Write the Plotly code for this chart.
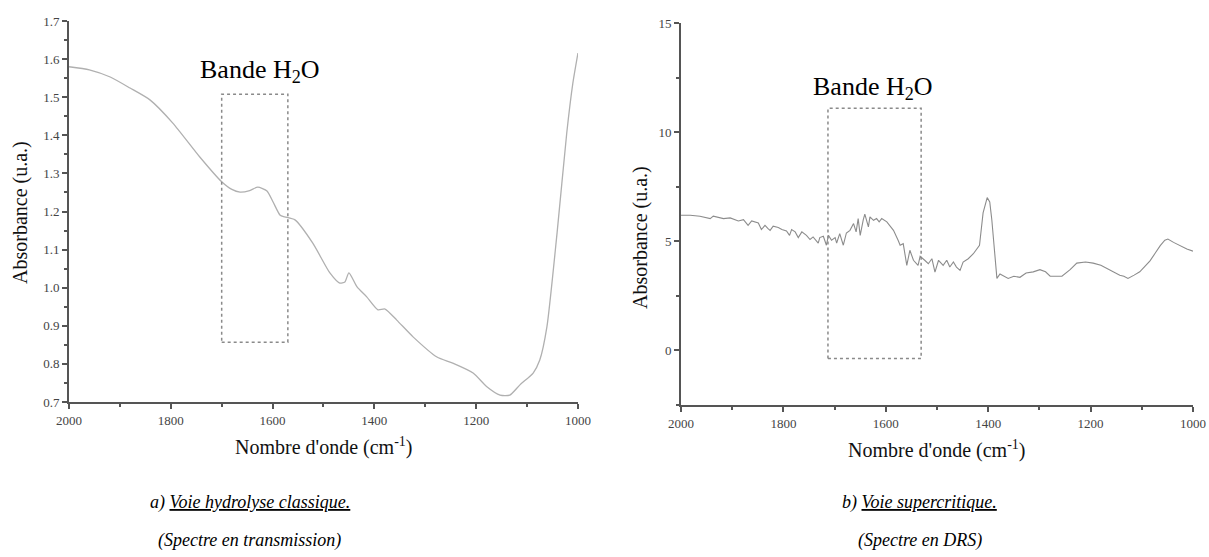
import plotly.graph_objects as go

# a) classical hydrolysis, transmission spectrum
wn_a = [2000, 1960, 1919, 1880, 1841, 1796, 1743, 1700, 1680, 1664, 1645, 1629, 1611, 1599,
        1585, 1576, 1556, 1521, 1487, 1468, 1458, 1450, 1434, 1415, 1393, 1379, 1356, 1324,
        1277, 1246, 1206, 1179, 1153, 1134, 1114, 1088, 1075, 1061, 1041, 1022, 1010, 1000]
abs_a = [1.580, 1.572, 1.553, 1.524, 1.493, 1.432, 1.343, 1.278, 1.258, 1.251, 1.255, 1.264,
         1.254, 1.225, 1.190, 1.186, 1.178, 1.117, 1.038, 1.012, 1.015, 1.039, 1.002, 0.976,
         0.942, 0.944, 0.915, 0.871, 0.818, 0.802, 0.776, 0.740, 0.718, 0.718, 0.745, 0.776,
         0.810, 0.897, 1.144, 1.406, 1.537, 1.616]

# b) supercritical route, DRS spectrum
wn_b = [2000, 1982, 1963, 1943, 1937, 1917, 1904, 1888, 1878, 1869, 1862, 1849, 1843, 1836,
        1830, 1826, 1820, 1810, 1803, 1794, 1788, 1784, 1777, 1771, 1764, 1755, 1748, 1742,
        1732, 1729, 1722, 1716, 1712, 1706, 1699, 1696, 1690, 1683, 1677, 1670, 1663, 1658,
        1654, 1650, 1644, 1641, 1634, 1631, 1624, 1618, 1613, 1608, 1598, 1585, 1576, 1572,
        1566, 1559, 1553, 1546, 1537, 1533, 1524, 1517, 1510, 1504, 1497, 1488, 1481, 1475,
        1468, 1462, 1455, 1449, 1439, 1429, 1417, 1410, 1402, 1397, 1393, 1387, 1383, 1377,
        1370, 1361, 1350, 1338, 1326, 1312, 1299, 1288, 1279, 1256, 1240, 1227, 1210, 1195,
        1180, 1168, 1155, 1143, 1135, 1127, 1115, 1104, 1094, 1084, 1074, 1064, 1055, 1049,
        1038, 1025, 1012, 1000]
abs_b = [6.19, 6.19, 6.15, 6.04, 6.15, 6.04, 6.07, 5.93, 5.99, 5.73, 5.93, 5.84, 5.54, 5.73,
         5.58, 5.50, 5.69, 5.63, 5.54, 5.47, 5.27, 5.54, 5.43, 5.17, 5.43, 5.27, 5.08, 5.20,
         4.92, 5.17, 5.23, 4.82, 5.27, 5.05, 5.17, 4.92, 5.35, 4.82, 5.38, 5.50, 5.81, 5.43,
         6.04, 5.27, 5.99, 6.24, 5.66, 6.12, 5.96, 6.04, 5.89, 6.04, 5.89, 5.50, 5.05, 4.82,
         4.89, 3.90, 4.59, 4.13, 3.90, 4.31, 4.13, 3.97, 4.20, 3.59, 4.13, 3.90, 4.13, 3.82,
         4.05, 3.82, 3.67, 4.05, 4.20, 4.43, 4.82, 6.30, 7.00, 6.80, 6.00, 4.45, 3.30, 3.50,
         3.40, 3.30, 3.40, 3.35, 3.55, 3.60, 3.70, 3.60, 3.40, 3.40, 3.70, 4.00, 4.05, 4.00,
         3.90, 3.76, 3.60, 3.44, 3.40, 3.30, 3.45, 3.60, 3.85, 4.10, 4.45, 4.80, 5.05, 5.10,
         4.95, 4.80, 4.65, 4.55]

# water band boxes: [x0, x1, y0, y1]
box_a = [1700, 1570, 0.857, 1.508]
box_b = [1713, 1531, -0.37, 11.1]

SERIF = "Liberation Serif"
AX = "#555555"

fig = go.Figure()
fig.add_trace(go.Scatter(x=wn_a, y=abs_a, mode="lines", line=dict(color="#b0b0b0", width=1.3, shape="spline", smoothing=0.6),
                         xaxis="x", yaxis="y", showlegend=False))
fig.add_trace(go.Scatter(x=wn_b, y=abs_b, mode="lines", line=dict(color="#8c8c8c", width=1.1),
                         xaxis="x2", yaxis="y2", showlegend=False))

axis_common = dict(showline=True, linecolor=AX, linewidth=2, ticks="outside", ticklen=5, tickwidth=1.5,
                   tickcolor=AX, showgrid=False, zeroline=False, ticklabeloverflow="allow", automargin=False,
                   tickfont=dict(family=SERIF, size=13, color="#444444"))

fig.update_layout(
    width=1209, height=557,
    margin=dict(l=69, r=16, t=21, b=152),
    paper_bgcolor="white", plot_bgcolor="white",
    xaxis=dict(domain=[0, 0.4528], range=[2000, 1000], dtick=200, anchor="y",
               minor=dict(dtick=100, ticks="outside", ticklen=3, tickcolor=AX), **axis_common),
    yaxis=dict(domain=[0.0078, 1], range=[0.7, 1.7], dtick=0.1, tickformat=".1f", anchor="x",
               minor=dict(dtick=0.05, ticks="outside", ticklen=3, tickcolor=AX), **axis_common),
    xaxis2=dict(domain=[0.5445, 1], range=[2000, 1000], dtick=200, anchor="y2",
                minor=dict(dtick=100, ticks="outside", ticklen=3, tickcolor=AX), **axis_common),
    yaxis2=dict(domain=[0, 0.9948], range=[-2.5, 15], tickvals=[0, 5, 10, 15], anchor="x2",
                minor=dict(dtick=2.5, ticks="outside", ticklen=3, tickcolor=AX), **axis_common),
)

for bx, xr, yr in [(box_a, "x", "y"), (box_b, "x2", "y2")]:
    fig.add_shape(type="rect", xref=xr, yref=yr, x0=bx[0], x1=bx[1], y0=bx[2], y1=bx[3],
                  line=dict(color="#8a8a8a", width=1.5, dash="dot"))

fig.add_annotation(x=1625, y=1.569, xref="x", yref="y", text="Bande H<sub>2</sub>O", showarrow=False,
                   font=dict(family=SERIF, size=26, color="black"))
fig.add_annotation(x=1625, y=12.0, xref="x2", yref="y2", text="Bande H<sub>2</sub>O", showarrow=False,
                   font=dict(family=SERIF, size=26, color="black"))

title_font = dict(family=SERIF, size=20, color="#111111")
for x, y, txt, ang in [(-0.0436, 0.5026, "Absorbance (u.a.)", -90),
                       (0.508, 0.4375, "Absorbance (u.a.)", -90),
                       (0.226, -0.107, "Nombre d'onde (cm<sup>-1</sup>)", 0),
                       (0.772, -0.115, "Nombre d'onde (cm<sup>-1</sup>)", 0)]:
    fig.add_annotation(x=x, y=y, xref="paper", yref="paper", text=txt, textangle=ang, showarrow=False,
                       xanchor="center", yanchor="middle", font=title_font)

cap_font = dict(family=SERIF, size=18, color="black", style="italic")
for x, y, txt in [(0.161, -0.255, "a) <u>Voie hydrolyse classique.</u>"),
                  (0.161, -0.352, "(Spectre en transmission)"),
                  (0.757, -0.255, "b) <u>Voie supercritique.</u>"),
                  (0.757, -0.352, "(Spectre en DRS)")]:
    fig.add_annotation(x=x, y=y, xref="paper", yref="paper", text=txt, showarrow=False,
                       xanchor="center", yanchor="middle", font=cap_font)

# drop the default 8px page margin so the figure fills the window exactly
fig.write_html("out.html", config={"displayModeBar": False},
               post_script="document.body.style.margin='0';")
